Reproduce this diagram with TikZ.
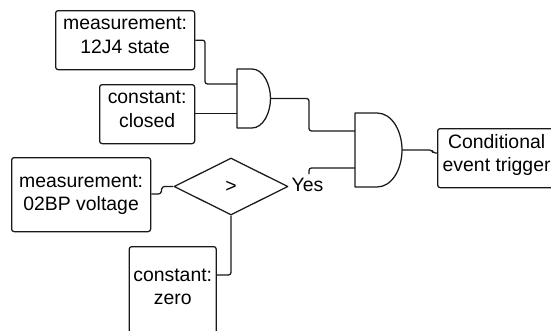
\documentclass[tikz,border=0pt]{standalone}
\usepackage{fontspec}
\setmainfont{Liberation Sans}
\usetikzlibrary{shapes.geometric}
\tikzset{
  every picture/.style={x=1pt,y=-1pt,line width=1.25pt,line join=round},
  boxnode/.style={draw=black!90,rounded corners=2.5pt,inner sep=0pt,align=center,
    font=\fontsize{19.4pt}{23.5pt}\selectfont,anchor=north west,text depth=10pt},
  wire/.style={draw=black!90,rounded corners=2.5pt},
  gate/.style={draw=black!90,fill=white},
  plainlabel/.style={inner sep=0pt,font=\fontsize{19.4pt}{23.5pt}\selectfont}
}
\begin{document}
\begin{tikzpicture}
\useasboundingbox (0,0) rectangle (551,330);
\clip (0,0) rectangle (551,330);
\node[boxnode,minimum width=139pt,minimum height=59pt] (m1) at (55,10) {measurement:\\12J4 state};
\node[boxnode,minimum width=95pt,minimum height=59pt] (c1) at (99,84) {constant:\\closed};
\node[boxnode,minimum width=139pt,minimum height=74pt,text depth=4pt] (m2) at (11,157) {measurement:\\02BP voltage};
\node[boxnode,minimum width=87pt,minimum height=94pt,text depth=14pt] (c2) at (128.6,246) {constant:\\zero};
\node[boxnode,minimum width=118pt,minimum height=59pt] (t) at (437,128) {Conditional\\event trigger};
\node[diamond,draw=black!90,aspect=2,inner sep=0pt,minimum width=114pt,minimum height=57pt,
  font=\fontsize{19.4pt}{23.5pt}\selectfont] (d) at (231,186.5) {>};
\node[plainlabel,anchor=west] (y) at (291,185) {Yes};
% AND gates
\coordinate (a1) at (237,69);
\coordinate (a1i1) at (237,84);
\coordinate (a1i2) at (237,113.4);
\coordinate (a1o) at (270.5,98.5);
\coordinate (a2) at (355,113);
\coordinate (a2i1) at (355,131);
\coordinate (a2i2) at (355,168);
\coordinate (a2o) at (402,150);
\draw[gate] (a1) -- ++(15,0) .. controls +(11,0) and (270.5,84) .. (a1o)
  .. controls (270.5,113) and +(11,0) .. (252,128) -- (237,128) -- cycle;
\draw[gate] (a2) -- ++(22,0) .. controls +(15,0) and (402,131) .. (a2o)
  .. controls (402,169) and +(15,0) .. (377,187) -- (355,187) -- cycle;
% connectors
\coordinate (ys) at (309,174);
\draw[wire] (m1.east) -- (205,39.5 |- m1.east) -- (205,84) -- (a1i1);
\draw[wire] (c1.east |- a1i2) -- (a1i2);
\draw[wire] (a1o) -- (309,98.5) -- (309,131) -- (a2i1);
\draw[wire] (ys) -- (309,168) -- (a2i2);
\draw[wire] (a2o) -- (432,150) -- (433,153) -- (t.west |- 0,153);
\draw[wire] (m2.east |- 0,194) -- (161,194) -- (162,186.5) -- (d.west);
\draw[wire] (c2.east |- 0,275) -- (231,275) -- (d.south);
\end{tikzpicture}
\end{document}
